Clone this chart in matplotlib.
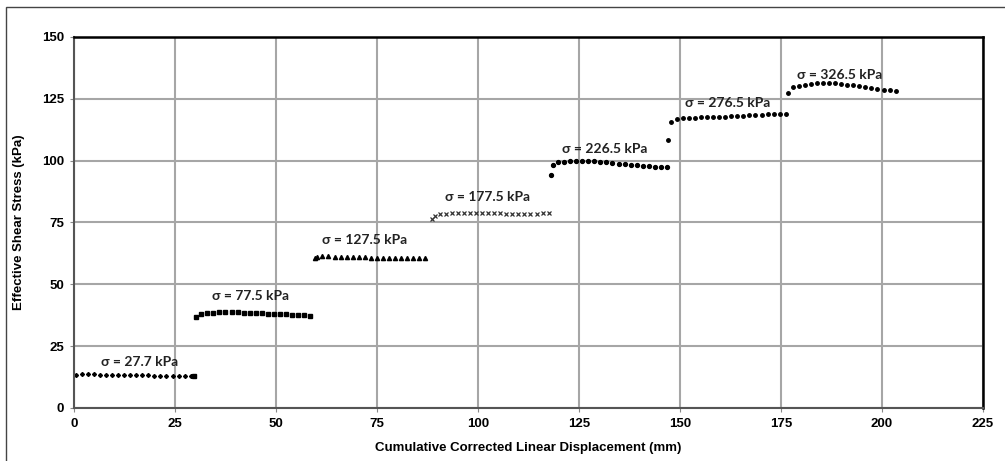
import matplotlib.pyplot as plt
from matplotlib.patches import Rectangle

# displacement (mm) and shear stress (kPa) for each normal stress stage
s1_x = [0.4, 1.9, 3.4, 4.9, 6.4, 7.9, 9.4, 10.9, 12.4, 13.9, 15.4, 16.9, 18.4, 19.9, 21.4, 22.9, 24.4, 25.9, 27.4, 28.9]
s1_y = [13.5, 13.6, 13.6, 13.6, 13.5, 13.5, 13.4, 13.4, 13.4, 13.3, 13.3, 13.2, 13.2, 13.1, 13.1, 13.0, 13.0, 12.9, 12.9, 12.9]

s2_x = [29.8, 30.3, 31.5, 33.0, 34.5, 36.0, 37.5, 39.0, 40.5, 42.0, 43.5, 45.0, 46.5, 48.0, 49.5, 51.0, 52.5, 54.0, 55.5, 57.0, 58.5]
s2_y = [13.0, 36.9, 37.9, 38.2, 38.4, 38.6, 38.7, 38.7, 38.6, 38.5, 38.4, 38.3, 38.2, 38.1, 38.0, 37.9, 37.8, 37.6, 37.5, 37.4, 37.3]

s3_x = [59.6, 60.2, 61.5, 63.0, 64.5, 66.0, 67.5, 69.0, 70.5, 72.0, 73.5, 75.0, 76.5, 78.0, 79.5, 81.0, 82.5, 84.0, 85.5, 87.0]
s3_y = [60.6, 61.0, 61.4, 61.3, 61.2, 61.1, 61.0, 61.0, 60.9, 60.9, 60.8, 60.8, 60.7, 60.7, 60.7, 60.6, 60.6, 60.5, 60.5, 60.5]

s4_x = [88.6, 89.4, 90.5, 92.0, 93.5, 95.0, 96.5, 98.0, 99.5, 101.0, 102.5, 104.0, 105.5, 107.0, 108.5, 110.0, 111.5, 113.0, 114.5, 116.0, 117.5]
s4_y = [76.3, 77.6, 78.3, 78.6, 78.8, 78.9, 78.9, 78.9, 78.8, 78.8, 78.7, 78.7, 78.7, 78.6, 78.6, 78.6, 78.6, 78.6, 78.6, 78.7, 78.7]

s5_x = [118.1, 118.7, 119.8, 121.3, 122.8, 124.3, 125.8, 127.3, 128.8, 130.3, 131.8, 133.3, 134.8, 136.3, 137.8, 139.3, 140.8, 142.3, 143.8, 145.3, 146.8]
s5_y = [94.2, 98.4, 99.3, 99.6, 99.8, 99.9, 100.0, 99.9, 99.7, 99.5, 99.3, 99.1, 98.8, 98.5, 98.3, 98.1, 98.0, 97.8, 97.6, 97.5, 97.4]

s6_x = [147.1, 147.8, 149.2, 150.7, 152.2, 153.7, 155.2, 156.7, 158.2, 159.7, 161.2, 162.7, 164.2, 165.7, 167.2, 168.7, 170.2, 171.7, 173.2, 174.7, 176.2]
s6_y = [108.4, 115.5, 116.7, 117.1, 117.3, 117.4, 117.5, 117.5, 117.6, 117.7, 117.8, 117.9, 118.0, 118.2, 118.3, 118.5, 118.6, 118.7, 118.7, 118.8, 118.9]

s7_x = [176.8, 178.0, 179.4, 180.9, 182.4, 183.9, 185.4, 186.9, 188.4, 189.9, 191.4, 192.9, 194.4, 195.9, 197.4, 198.9, 200.4, 201.9, 203.4]
s7_y = [127.2, 129.6, 130.3, 130.7, 131.0, 131.2, 131.3, 131.3, 131.2, 131.0, 130.7, 130.4, 130.1, 129.8, 129.4, 129.0, 128.7, 128.4, 128.2]

# stage labels and where they sit
labels = ["σ = 27.7 kPa", "σ = 77.5 kPa", "σ = 127.5 kPa", "σ = 177.5 kPa",
          "σ = 226.5 kPa", "σ = 276.5 kPa", "σ = 326.5 kPa"]
label_x = [16.3, 43.6, 71.9, 102.4, 131.4, 161.9, 189.6]
label_y = [18.6, 45.4, 67.7, 85.4, 104.7, 123.2, 134.6]

plt.rcParams['font.family'] = ['Liberation Sans', 'DejaVu Sans']

fig = plt.figure(figsize=(10.05, 4.61), dpi=100)
ax = fig.add_axes([0.0736, 0.115, 0.9044, 0.805])

# outer frame of the chart area
fig.patches.append(Rectangle((0.006, -0.1), 1.1, 1.085, transform=fig.transFigure,
                             fill=False, edgecolor='#444444', linewidth=1.0))

ax.plot(s1_x, s1_y, linestyle='none', marker='D', ms=2.0, color='black')
ax.plot(s2_x, s2_y, linestyle='none', marker='s', ms=2.8, color='black')
ax.plot(s3_x, s3_y, linestyle='none', marker='^', ms=3.0, color='black')
ax.plot(s4_x, s4_y, linestyle='none', marker='x', ms=2.8, mew=0.9, color='#333333')
ax.plot(s5_x, s5_y, linestyle='none', marker='o', ms=2.8, color='black')
ax.plot(s6_x, s6_y, linestyle='none', marker='o', ms=2.5, color='black')
ax.plot(s7_x, s7_y, linestyle='none', marker='o', ms=2.5, color='black')

for t, x, y in zip(labels, label_x, label_y):
    ax.text(x, y, t, ha='center', va='center', fontsize=10, fontweight='bold',
            family=['Lato', 'DejaVu Sans'], color='#222222')

ax.set_xlim(0, 225)
ax.set_ylim(0, 150)
ax.set_xticks(range(0, 226, 25))
ax.set_yticks(range(0, 151, 25))
ax.grid(True, color='#a6a6a6', linewidth=1.5)
ax.set_axisbelow(True)

for side in ['top', 'right']:
    ax.spines[side].set_color('black')
    ax.spines[side].set_linewidth(1.8)
for side in ['left', 'bottom']:
    ax.spines[side].set_color('#555555')
    ax.spines[side].set_linewidth(1.5)

ax.tick_params(axis='both', labelsize=9.5, length=3, color='#888888', pad=4)
for lab in ax.get_xticklabels() + ax.get_yticklabels():
    lab.set_fontweight('bold')

ax.set_xlabel("Cumulative Corrected Linear Displacement (mm)", fontsize=9.5,
              fontweight='bold', labelpad=9)
ax.set_ylabel("Effective Shear Stress (kPa)", fontsize=9.5, fontweight='bold',
              labelpad=12)

fig.savefig("out.png", dpi=100)
